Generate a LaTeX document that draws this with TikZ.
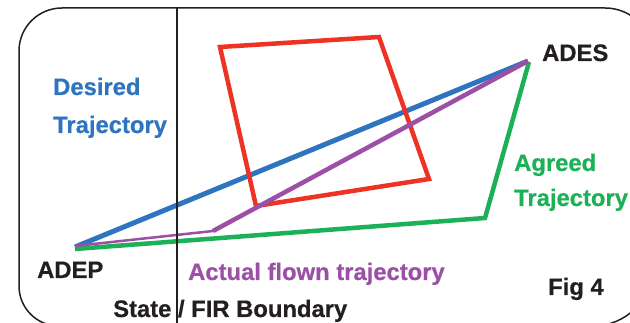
\documentclass[tikz,border=0pt]{standalone}
\usepackage{fontspec}
\setmainfont{Liberation Sans}[BoldFeatures={FakeBold=0.6}]
\definecolor{dblue}{HTML}{2F74BF}
\definecolor{dred}{HTML}{EE3224}
\definecolor{dgreen}{HTML}{1DB157}
\definecolor{dpurple}{HTML}{9B4FA5}
\definecolor{dblack}{HTML}{231F20}
\tikzset{
  lbl/.style={anchor=base west, inner sep=0pt, font=\fontsize{23.8}{28}\selectfont\bfseries},
  traj/.style={line width=5pt, line join=miter},
}
\begin{document}
\begin{tikzpicture}[x=1pt,y=-1pt]
\useasboundingbox (0,0) rectangle (630,323);
\clip (0,0) rectangle (630,323);
% frame
\draw[dblack, line width=1.5pt]
  (19,286) -- (19,51) arc[start angle=180, end angle=270, radius=43]
  -- (605,8) arc[start angle=270, end angle=360, radius=48]
  -- (653,266) arc[start angle=0, end angle=90, radius=60]
  -- (59,326) arc[start angle=90, end angle=180, radius=40] -- cycle;
% points
\coordinate (adep) at (75,247);
\coordinate (ades) at (528,61);
\coordinate (adepg) at (75,249);
\coordinate (adesg) at (529,62);
\coordinate (gbend) at (485,218);
\coordinate (adepp) at (75,246);
\coordinate (pbend) at (213,231);
\coordinate (r1) at (220,47);
\coordinate (r2) at (379,37);
\coordinate (r3) at (429,179);
\coordinate (r4) at (256,206);
\coordinate (vtop) at (177,8);
\coordinate (vbot) at (177,323);
% trajectories
\draw[traj, dblue] (adep) -- (ades);
\draw[traj, dgreen, line width=4.5pt] (adepg) -- (gbend) -- (adesg);
\draw[traj, dred, line width=4.5pt] (r1) -- (r2) -- (r3) -- (r4) -- cycle;
\draw[dpurple, line width=2.5pt] (adepp) -- (pbend);
\draw[traj, dpurple, line width=4.5pt] (pbend) -- (ades);
% boundary
\draw[dblack, line width=1.8pt] (vtop) -- (vbot);
% labels
\node[lbl, text=dblue] (des1) at (53,95) {Desired};
\node[lbl, text=dblue] (des2) at (53,133) {Trajectory};
\node[lbl, text=dblack] (adesl) at (542,61) {ADES};
\node[lbl, text=dgreen] (agr1) at (514,171) {Agreed};
\node[lbl, text=dgreen] (agr2) at (514,206) {Trajectory};
\node[lbl, text=dblack] (adepl) at (37,278) {ADEP};
\node[lbl, text=dpurple] (act) at (188,280) {Actual flown trajectory};
\node[lbl, text=dblack] (fig) at (548,295) {Fig 4};
\node[lbl, text=dblack] (state) at (113,317) {State / FIR Boundary};
\end{tikzpicture}
\end{document}
